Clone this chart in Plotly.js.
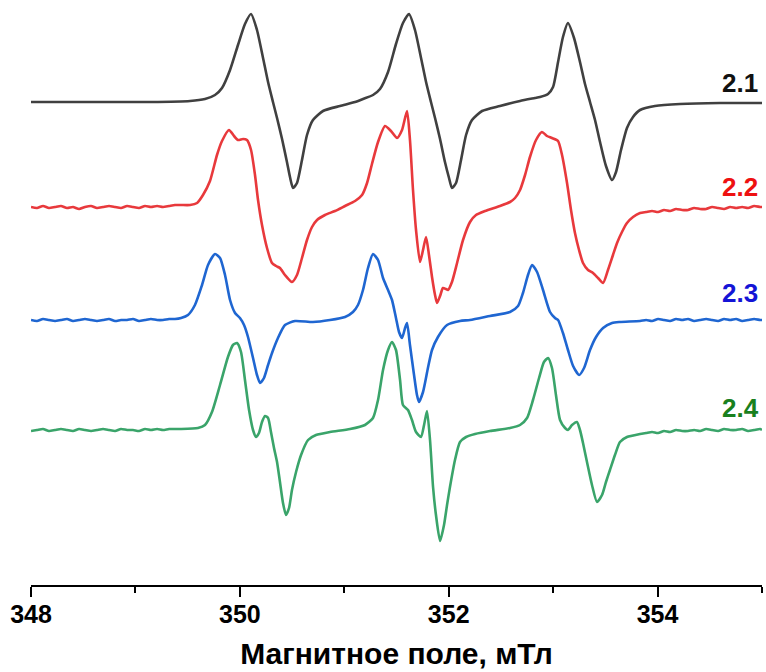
<!DOCTYPE html>
<html>
<head>
<meta charset="utf-8">
<script src="https://cdn.plot.ly/plotly-3.0.1.min.js"></script>
<style>
html,body{margin:0;padding:0;background:#fff;}
#chart{width:766px;height:672px;}
</style>
</head>
<body>
<div id="chart"></div>
<script>
// Magnetic field (mT) and signal (arbitrary units, relative to each baseline)
const field21 = [348.000,348.661,349.140,349.523,349.666,349.762,349.829,349.906,349.982,350.049,350.107,350.164,350.222,350.270,350.317,350.356,350.404,350.451,350.480,350.509,350.547,350.595,350.643,350.700,350.796,350.959,351.103,351.179,351.275,351.342,351.419,351.495,351.562,351.620,351.677,351.735,351.783,351.830,351.869,351.917,351.964,352.003,352.031,352.070,352.118,352.166,352.223,352.319,352.491,352.683,352.826,352.874,352.951,352.999,353.047,353.094,353.142,353.200,353.257,353.305,353.353,353.401,353.449,353.506,353.564,353.602,353.650,353.707,353.765,353.832,353.975,354.215,354.598,355.000];
const signal21 = [0,0,0,1,3,7,14,32,57,78,88,72,44,20,0,-16,-37,-60,-75,-86,-81,-58,-33,-18,-9,-4,0,3,7,13,30,58,79,88,72,44,20,0,-16,-37,-60,-76,-86,-81,-58,-33,-18,-9,-4,1,4,5,8,15,40,65,79,64,40,18,0,-18,-40,-64,-78,-70,-48,-26,-15,-8,-4,-2,-1,-1];

const field22 = [348.000,348.057,348.115,348.172,348.230,348.287,348.345,348.402,348.460,348.517,348.575,348.632,348.690,348.747,348.805,348.862,348.920,348.977,349.034,349.092,349.149,349.207,349.264,349.322,349.379,349.437,
349.523,349.590,349.647,349.714,349.781,349.829,349.896,349.944,349.982,350.030,350.068,350.107,350.145,350.174,350.212,350.260,350.308,350.346,350.384,350.432,350.499,350.547,350.595,350.643,350.691,350.739,350.815,350.911,351.007,351.103,351.170,351.218,351.265,351.323,351.390,351.447,351.505,351.553,351.601,351.629,351.658,351.687,351.725,351.754,351.783,351.811,351.840,351.869,351.888,351.917,351.945,351.974,351.993,352.031,352.080,352.137,352.204,352.261,352.348,352.491,352.587,352.635,352.683,352.731,352.778,352.836,352.893,352.941,352.989,353.047,353.085,353.133,353.171,353.209,353.248,353.286,353.334,353.382,353.430,353.478,353.525,353.573,353.612,353.659,353.707,353.765,
353.832,353.890,353.947,354.005,354.062,354.120,354.177,354.235,354.292,354.350,354.407,354.465,354.522,354.580,354.637,354.695,354.752,354.810,354.867,354.925,354.982,355.000];
const signal22 = [0,-1,1,-1,0,1,-1,0,-2,0,1,-1,0,1,0,-1,1,0,-1,1,0,1,0,1,2,2,
2,4,12,26,52,66,77,71,67,68,67,57,32,7,-18,-41,-56,-59,-61,-68,-75,-68,-51,-33,-20,-13,-8,-4,1,6,12,24,43,65,81,76,69,77,96,67,17,-23,-55,-43,-30,-48,-70,-88,-96,-89,-81,-82,-83,-75,-56,-33,-15,-8,-4,1,5,9,17,32,50,67,75,71,69,66,52,24,-3,-26,-43,-56,-63,-66,-71,-76,-63,-48,-36,-25,-16,-10,
-6,-5,-4,-5,-3,-4,-2,-3,-3,-1,-2,-2,0,-1,-2,0,-1,0,-1,1,0,0];

const field23 = [348.000,348.057,348.115,348.172,348.230,348.287,348.345,348.402,348.460,348.517,348.575,348.632,348.690,348.747,348.805,348.862,348.920,348.977,349.034,349.092,349.149,349.207,349.264,349.322,349.379,349.437,
349.503,349.570,349.638,349.695,349.762,349.810,349.858,349.906,349.954,350.001,350.040,350.078,350.126,350.164,350.193,350.231,350.270,350.308,350.365,350.432,350.528,350.700,350.863,351.007,351.083,351.131,351.179,351.227,351.275,351.323,351.371,351.419,351.457,351.495,351.524,351.553,351.582,351.601,351.629,351.668,351.696,351.715,351.754,351.801,351.840,351.897,351.984,352.108,352.204,352.395,352.587,352.664,352.711,352.759,352.798,352.846,352.903,352.970,353.018,353.047,353.094,353.142,353.191,353.248,353.296,353.353,353.411,353.478,353.564,353.640,
353.832,353.890,353.947,354.005,354.062,354.120,354.177,354.235,354.292,354.350,354.407,354.465,354.522,354.580,354.637,354.695,354.752,354.810,354.867,354.925,354.982,355.000];
const signal23 = [0,-1,1,0,-1,0,1,-1,0,1,0,-1,0,1,-1,0,0,1,-1,0,1,0,0,1,1,2,
5,15,35,55,66,62,45,20,7,2,-5,-17,-38,-55,-63,-58,-45,-33,-18,-5,-1,-2,0,3,8,15,30,52,66,60,42,30,20,2,-12,-18,-8,-3,-25,-55,-75,-82,-72,-48,-30,-17,-5,-1,0,4,8,14,27,45,55,48,30,8,2,0,-13,-30,-46,-55,-48,-30,-17,-8,-3,-2,
-1,0,-1,1,0,-1,1,0,1,-1,0,1,0,-1,1,0,1,-1,0,1,0,0];

const field24 = [348.000,348.057,348.115,348.172,348.230,348.287,348.345,348.402,348.460,348.517,348.575,348.632,348.690,348.747,348.805,348.862,348.920,348.977,349.034,349.092,349.149,349.207,349.264,349.322,349.379,349.437,
349.599,349.666,349.733,349.810,349.886,349.934,349.973,350.011,350.049,350.088,350.126,350.155,350.183,350.212,350.241,350.270,350.298,350.327,350.356,350.384,350.413,350.442,350.471,350.499,350.538,350.586,350.653,350.729,350.863,351.055,351.198,351.275,351.323,351.371,351.419,351.457,351.495,351.534,351.562,351.610,351.648,351.687,351.735,351.764,351.792,351.821,351.850,351.878,351.917,351.955,351.984,352.012,352.060,352.108,352.166,352.252,352.395,352.587,352.683,352.750,352.807,352.865,352.912,352.951,352.989,353.027,353.066,353.114,353.142,353.181,353.228,353.257,353.286,353.324,353.372,353.420,353.468,353.506,353.544,353.592,353.640,353.707,
353.832,353.890,353.947,354.005,354.062,354.120,354.177,354.235,354.292,354.350,354.407,354.465,354.522,354.580,354.637,354.695,354.752,354.810,354.867,354.925,354.982,355.000];
const signal24 = [-1,0,1,-1,0,1,0,-1,1,0,-1,0,1,0,-1,1,0,0,-1,1,0,1,0,1,1,1,
2,5,18,45,73,85,87,78,50,20,0,-7,-3,8,14,12,-2,-18,-32,-52,-73,-85,-78,-60,-42,-25,-10,-5,-2,1,5,12,30,60,80,88,80,50,25,20,10,-2,-7,5,19,-10,-57,-85,-111,-95,-75,-57,-30,-12,-7,-4,-1,2,5,12,30,52,68,72,62,35,10,2,0,5,8,0,-13,-32,-55,-72,-65,-52,-40,-25,-12,-7,
-4,-3,-2,-3,-1,-2,0,-1,-1,0,-1,1,0,-1,1,0,0,1,-1,0,1,0];

const sampleNames = ["2.1", "2.2", "2.3", "2.4"];
const offsets = [483, 378, 265, 155];
const tickVals = [348, 350, 352, 354];
const tickText = ["348", "350", "352", "354"];
const xTitle = "Магнитное поле, мТл";

const fields = [field21, field22, field23, field24];
const signals = [signal21, signal22, signal23, signal24];
const lineColors = ["#404040", "#e8393c", "#1f66d1", "#3aa46a"];
const labelColors = ["#111111", "#ee1111", "#1414d6", "#19801e"];
const labelY = [502, 398, 292, 177];

const traces = fields.map((f, i) => ({
  x: f,
  y: signals[i].map(v => v + offsets[i]),
  type: "scatter",
  mode: "lines",
  name: sampleNames[i],
  line: {color: lineColors[i], width: 2.6, shape: "spline", smoothing: 0.6},
  hoverinfo: "skip"
}));

const annotations = sampleNames.map((n, i) => ({
  x: 354.79, y: labelY[i], xref: "x", yref: "y",
  text: "<b>" + n + "</b>", showarrow: false,
  xanchor: "center", yanchor: "middle",
  font: {family: "Liberation Sans, Arial, sans-serif", size: 26, color: labelColors[i]}
}));

const fontFam = '"Liberation Sans", Arial, sans-serif';

const layout = {
  width: 766, height: 672,
  margin: {l: 31, r: 4, t: 5, b: 87},
  paper_bgcolor: "#fff", plot_bgcolor: "#fff",
  showlegend: false,
  xaxis: {
    range: [348, 355],
    showline: true, linecolor: "#000", linewidth: 2,
    showgrid: false, zeroline: false,
    ticks: "outside", ticklen: 10, tickwidth: 2, tickcolor: "#000",
    tickvals: tickVals, ticktext: tickText,
    ticklabelstandoff: -4,
    tickfont: {family: fontFam, size: 25, color: "#000", weight: "bold"},
    minor: {ticks: "outside", ticklen: 6, tickwidth: 2, tickcolor: "#000", dtick: 1, tick0: 349, showgrid: false},
    title: {text: xTitle, font: {family: fontFam, size: 30, color: "#000", weight: "bold"}, standoff: 16}
  },
  yaxis: {range: [0, 580], visible: false, fixedrange: true},
  annotations: annotations
};

Plotly.newPlot("chart", traces, layout, {staticPlot: true, displayModeBar: false});
</script>
</body>
</html>
